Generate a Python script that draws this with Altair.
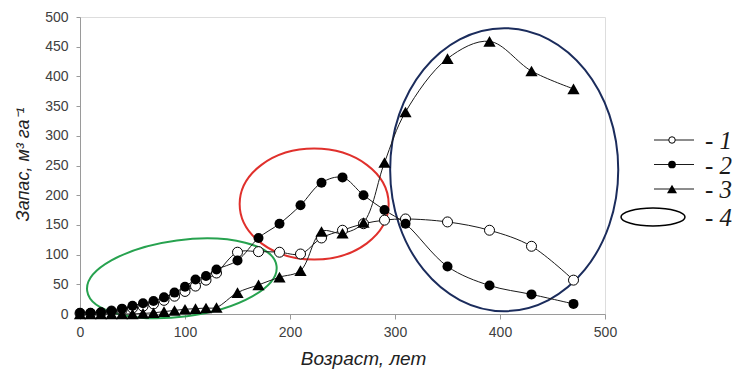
import altair as alt
import pandas as pd

# ---------------- data ----------------
ages = [0, 10, 20, 30, 40, 50, 60, 70, 80, 90, 100, 110, 120, 130,
        150, 170, 190, 210, 230, 250, 270, 290, 310,
        350, 390, 430, 470]
series1 = [1, 1, 2, 5, 7, 10, 13, 17, 23, 30, 38, 47, 57, 69,
           104, 105, 104, 101, 128, 141, 152, 158, 160,
           155, 141, 114, 57]
series2 = [2, 2, 3, 5, 9, 14, 18, 22, 28, 36, 46, 58, 64, 75,
           90, 128, 152, 183, 221, 230, 200, 175, 152,
           80, 48, 33, 17]
series3 = [0, 0, 0, 0, 0, 0, 1, 2, 4, 6, 8, 9, 10, 11,
           36, 49, 62, 73, 139, 136, 154, 255, 340,
           430, 459, 409, 379]

# annotation ellipses (centres in data units)
ellipse_names = ["green", "red", "blue"]
ellipse_age = [97, 223, 404]
ellipse_stock = [60, 185, 243]

legend_labels = ["- 1", "- 2", "- 3", "- 4"]

x_ticks = [0, 100, 200, 300, 400, 500]
y_ticks = [0, 50, 100, 150, 200, 250, 300, 350, 400, 450, 500]

df = pd.DataFrame({
    "age": ages * 3,
    "stock": series1 + series2 + series3,
    "series": ["1"] * len(ages) + ["2"] * len(ages) + ["3"] * len(ages),
})
ell = pd.DataFrame({"name": ellipse_names, "age": ellipse_age, "stock": ellipse_stock})
one = pd.DataFrame({"k": [0]})

W, H = 525, 297
xs = alt.Scale(domain=[0, 500], nice=False)
ys = alt.Scale(domain=[0, 500], nice=False)

x_axis = alt.Axis(values=x_ticks, title="Возраст, лет", grid=False,
                  domainColor="#9a9a9a", tickColor="#9a9a9a", tickSize=5,
                  labelFont="Liberation Sans", labelFontSize=14, labelColor="#404040",
                  labelPadding=6, labelFlush=False, labelOverlap=False,
                  titleFont="Liberation Sans", titleFontSize=19, titleFontStyle="italic",
                  titleFontWeight="normal", titleColor="#222222",
                  titleX=283, titleY=44, titleBaseline="middle", titleAlign="center")
y_axis = alt.Axis(values=y_ticks, title="Запас, м³ га⁻¹", grid=False,
                  domainColor="#9a9a9a", tickColor="#9a9a9a", tickSize=4,
                  labelFont="Liberation Sans", labelFontSize=14, labelColor="#404040",
                  labelPadding=8, labelFlush=False, labelOverlap=False,
                  tickCount=11,
                  titleFont="Liberation Sans", titleFontSize=18, titleFontStyle="italic",
                  titleFontWeight="normal", titleColor="#222222",
                  titleX=-57, titleY=147, titleAngle=270, titleAlign="center",
                  titleBaseline="middle")

X = alt.X("age:Q", scale=xs, axis=x_axis)
Y = alt.Y("stock:Q", scale=ys, axis=y_axis)


def ellipse_path(rx, ry):
    return (f"M {-rx} 0 A {rx} {ry} 0 1 1 {rx} 0 "
            f"A {rx} {ry} 0 1 1 {-rx} 0 Z")


ell_specs = [
    ("green", "#27a24f", ellipse_path(1, 0.40), 191 ** 2, 352.5),
    ("red", "#e0302c", ellipse_path(1, 0.745), 149 ** 2, 0),
    ("blue", "#1b2c5c", ellipse_path(0.806, 1), 283 ** 2, 0),
]

layers = []
for name, col, path, size, ang in ell_specs:
    layers.append(
        alt.Chart(ell).transform_filter(alt.datum.name == name)
        .mark_point(shape=path, size=size, angle=ang, filled=False,
                    color=col, strokeWidth=2, opacity=1)
        .encode(x=X, y=Y)
    )

lines = alt.Chart(df).mark_line(color="#1a1a1a", strokeWidth=1,
                                interpolate="catmull-rom").encode(
    x=X, y=Y, detail="series:N")
layers.append(lines)

p1 = alt.Chart(df).transform_filter(alt.datum.series == "1").mark_point(
    shape="circle", size=100, filled=True, fill="white", stroke="black",
    strokeWidth=1, opacity=1).encode(x=X, y=Y)
p2 = alt.Chart(df).transform_filter(alt.datum.series == "2").mark_point(
    shape="circle", size=100, filled=True, color="black", opacity=1).encode(x=X, y=Y)
p3 = alt.Chart(df).transform_filter(alt.datum.series == "3").mark_point(
    shape="triangle-up", size=150, filled=True, color="black", opacity=1).encode(x=X, y=Y)
layers += [p1, p2, p3]

# ---------------- manual legend ----------------
leg_y = [123, 147.5, 172]
for yy in leg_y:
    layers.append(alt.Chart(one).mark_rule(color="#1a1a1a", strokeWidth=1).encode(
        x=alt.value(574), x2=alt.value(614), y=alt.value(yy)))
layers.append(alt.Chart(one).mark_point(shape="circle", size=42, filled=True, fill="white",
                                        stroke="black", strokeWidth=1, opacity=1).encode(
    x=alt.value(592), y=alt.value(leg_y[0])))
layers.append(alt.Chart(one).mark_point(shape="circle", size=60, filled=True, color="black",
                                        opacity=1).encode(
    x=alt.value(592), y=alt.value(leg_y[1])))
layers.append(alt.Chart(one).mark_point(shape="triangle-up", size=100, filled=True,
                                        color="black", opacity=1).encode(
    x=alt.value(592), y=alt.value(leg_y[2])))
layers.append(alt.Chart(one).mark_point(shape=ellipse_path(1, 0.28), size=64 ** 2,
                                        filled=False, color="black", strokeWidth=1.5,
                                        opacity=1).encode(
    x=alt.value(573), y=alt.value(200)))
for lab, yy in zip(legend_labels, leg_y + [200]):
    layers.append(alt.Chart(one).mark_text(text=lab, font="Liberation Serif",
                                           fontStyle="italic", fontSize=25, align="left",
                                           baseline="middle", color="#1a1a1a").encode(
        x=alt.value(625), y=alt.value(yy + 1)))

chart = alt.layer(*layers).properties(
    width=W, height=H,
    padding={"left": 80, "top": 17, "right": 135, "bottom": 58},
    autosize="none",
).configure_view(stroke=None).configure(background="white")

chart.save("out.html", embed_options={"renderer": "svg", "actions": False})
